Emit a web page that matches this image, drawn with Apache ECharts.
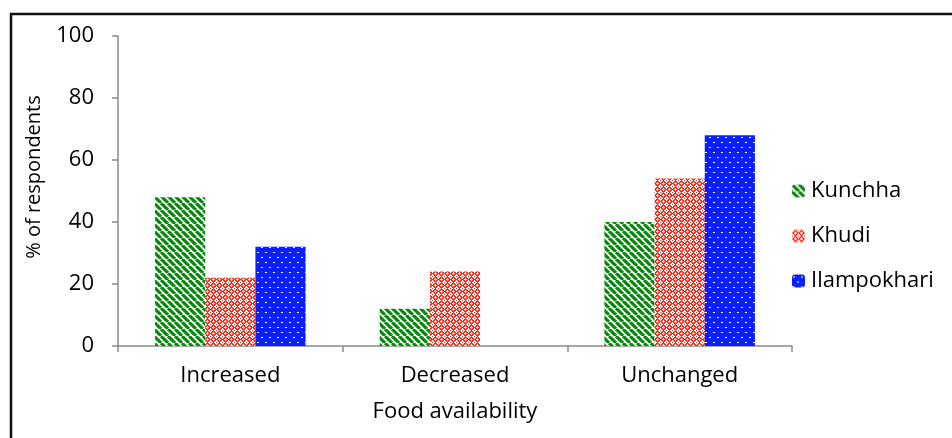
<!DOCTYPE html>
<html>
<head>
<meta charset="utf-8">
<script src="https://cdn.jsdelivr.net/npm/echarts@6/dist/echarts.min.js"></script>
<style>
  html, body { margin: 0; padding: 0; background: #fff; }
  #chart { width: 952px; height: 438px; }
</style>
</head>
<body>
<div id="chart"></div>
<script>
// Food availability responses per village (% of respondents)
const categories = ['Increased', 'Decreased', 'Unchanged'];
const kunchha = [48, 12, 40];
const khudi = [22, 24, 54];
const ilampokhari = [32, 0, 68];
const yTicks = [0, 20, 40, 60, 80, 100];

// Fill patterns drawn on small canvases
function makeTile(w, h, draw) {
  const c = document.createElement('canvas');
  c.width = w; c.height = h;
  const ctx = c.getContext('2d');
  draw(ctx, w, h);
  return { image: c, repeat: 'repeat' };
}

// Green diagonal stripes (down to the right)
const stripeGreen = makeTile(7, 7, (ctx, w, h) => {
  ctx.fillStyle = '#ffffff';
  ctx.fillRect(0, 0, w, h);
  ctx.strokeStyle = '#078a0b';
  ctx.lineWidth = 3.2;
  ctx.beginPath();
  for (let k = -2; k <= 2; k++) {
    ctx.moveTo(k * w, 0);
    ctx.lineTo(k * w + w, h);
  }
  ctx.stroke();
});

// Red ring lattice on white
const latticeRed = makeTile(6, 6, (ctx, w, h) => {
  ctx.fillStyle = '#ffffff';
  ctx.fillRect(0, 0, w, h);
  ctx.fillStyle = '#ff2616';
  const px = [[3,1],[2,2],[4,2],[1,3],[5,3],[2,4],[4,4],[3,5],
              [2,1],[4,1],[1,2],[5,2],[1,4],[5,4],[2,5],[4,5],
              [0,0],[0,3],[3,0]];
  px.forEach(([x, y]) => ctx.fillRect(x, y, 1, 1));
});

// Blue with white staggered dots
const dotsBlue = makeTile(8, 10, (ctx, w, h) => {
  ctx.fillStyle = '#0a1fff';
  ctx.fillRect(0, 0, w, h);
  ctx.fillStyle = '#ffffff';
  ctx.fillRect(1, 2, 2, 1);
  ctx.fillRect(5, 7, 2, 1);
});

const font = '"Open Sans", Lato, sans-serif';

const chart = echarts.init(document.getElementById('chart'), null, { renderer: 'canvas' });

function barSeries(name, data, fill) {
  return {
    name: name,
    type: 'bar',
    data: data,
    barGap: '0%',
    barCategoryGap: '33%',
    itemStyle: { color: fill },
    emphasis: { disabled: true }
  };
}

chart.setOption({
  animation: false,
  backgroundColor: '#ffffff',
  graphic: [{
    type: 'rect',
    shape: { x: 11, y: 14, width: 1200, height: 800 },
    style: { fill: 'none', stroke: '#111111', lineWidth: 2.5 },
    silent: true
  }],
  grid: { left: 118, right: 160, top: 36, bottom: 92 },
  legend: {
    orient: 'vertical',
    left: 787,
    top: 175,
    itemWidth: 13,
    itemHeight: 13,
    itemGap: 23,
    textStyle: { fontFamily: font, fontSize: 22, color: '#000000', padding: [0, 0, 0, 1] },
    data: ['Kunchha', 'Khudi', 'Ilampokhari']
  },
  xAxis: {
    type: 'category',
    data: categories,
    name: 'Food availability',
    nameLocation: 'middle',
    nameGap: 55,
    nameTextStyle: { fontFamily: font, fontSize: 22, color: '#000000' },
    axisLine: { lineStyle: { color: '#8a8a8a', width: 1.5 } },
    axisTick: { show: true, length: 6, lineStyle: { color: '#8a8a8a', width: 1.5 } },
    axisLabel: { fontFamily: font, fontSize: 22, color: '#000000', margin: 19 }
  },
  yAxis: {
    type: 'value',
    min: yTicks[0],
    max: yTicks[yTicks.length - 1],
    interval: yTicks[1] - yTicks[0],
    name: '% of respondents',
    nameLocation: 'middle',
    nameGap: 74,
    nameTextStyle: { fontFamily: font, fontSize: 20, color: '#000000', padding: [0, 0, 0, 28] },
    axisLine: { show: true, lineStyle: { color: '#8a8a8a', width: 1.5 } },
    axisTick: { show: true, length: 6, lineStyle: { color: '#8a8a8a', width: 1.5 } },
    splitLine: { show: false },
    axisLabel: { fontFamily: font, fontSize: 22, color: '#000000', margin: 24 }
  },
  series: [
    barSeries('Kunchha', kunchha, stripeGreen),
    barSeries('Khudi', khudi, latticeRed),
    barSeries('Ilampokhari', ilampokhari, dotsBlue)
  ]
});
</script>
</body>
</html>
